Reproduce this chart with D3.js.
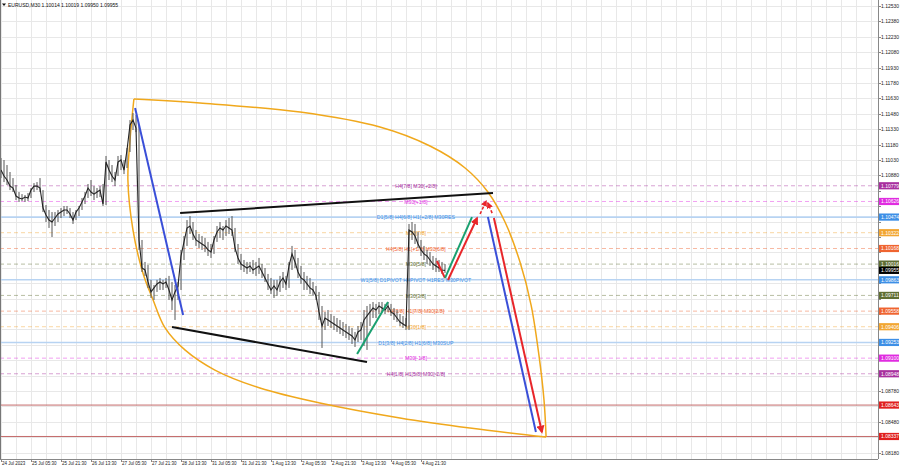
<!DOCTYPE html>
<html><head><meta charset="utf-8">
<script src="https://cdn.jsdelivr.net/npm/d3@7"></script>
<style>
html,body{margin:0;padding:0;background:#fff;}
svg{display:block;font-family:"Liberation Sans",Arial,sans-serif;}
</style></head><body>
<svg id="c" width="900" height="468"></svg>
<script>
// ---------- DATA ----------
const headerText = "EURUSD,M30  1.10014 1.10019 1.09950 1.09955";
const barHigh = [1.11049,1.1103,1.10981,1.10913,1.10854,1.10786,1.10718,1.10698,1.10689,1.10708,
1.10757,1.10805,1.10815,1.10854,1.10737,1.10591,1.10543,1.10523,1.10523,1.10543,
1.10562,1.10582,1.10582,1.10562,1.10523,1.10543,1.10582,1.1066,1.10718,1.10796,
1.10835,1.10776,1.10757,1.10776,1.10796,1.11069,1.1103,1.10981,1.10913,1.11069,
1.11078,1.1103,1.11147,1.11419,1.11487,1.11468,1.11371,1.10251,1.10037,1.10007,
1.09862,1.09813,1.09862,1.09881,1.09862,1.09881,1.09901,1.09842,1.09813,1.09842,
1.10154,1.1029,1.10445,1.10484,1.10426,1.10348,1.10309,1.1029,1.10271,1.10232,
1.10212,1.1029,1.10387,1.10426,1.10387,1.10445,1.10465,1.10484,1.10368,1.10212,
1.10115,1.10056,1.10037,1.10037,1.10056,1.10037,1.10076,1.10017,1.09978,1.0992,
1.09881,1.09862,1.09862,1.09901,1.09939,1.09901,1.10037,1.10193,1.10154,1.10076,
1.09998,1.09939,1.09901,1.09881,1.09842,1.09803,1.09745,1.09608,1.0955,1.09569,
1.0953,1.09511,1.09491,1.09472,1.09452,1.09433,1.09413,1.09394,1.09355,1.09413,
1.09452,1.09569,1.09608,1.09628,1.09647,1.09628,1.09647,1.09647,1.09628,1.09647,
1.09628,1.09589,1.09569,1.0953,1.09511,1.09491,1.10407,1.10426,1.10407,1.10329,
1.10251,1.10193,1.10154,1.10134,1.10095,1.10076,1.10056,1.10037,1.10017];
const barLow = [1.10854,1.10815,1.10786,1.10737,1.10718,1.1064,1.10621,1.1063,1.10621,1.1063,
1.1066,1.10718,1.10737,1.10718,1.10523,1.10426,1.10368,1.1028,1.10387,1.10426,
1.10465,1.10484,1.10504,1.10465,1.10407,1.10445,1.10484,1.10543,1.10601,1.1066,
1.10679,1.1064,1.1066,1.10669,1.10582,1.10591,1.10835,1.10815,1.10776,1.10874,
1.10932,1.10893,1.10952,1.11108,1.11322,1.11302,1.10154,1.09939,1.09901,1.09784,
1.09686,1.09667,1.09745,1.09764,1.09764,1.09784,1.09667,1.09569,1.09472,1.09667,
1.09764,1.10056,1.10193,1.10309,1.10251,1.10193,1.10173,1.10154,1.10134,1.10095,
1.10076,1.10115,1.10232,1.10271,1.10251,1.1029,1.10309,1.1029,1.10134,1.10017,
1.09959,1.09939,1.0992,1.09939,1.0992,1.09901,1.0992,1.09881,1.09842,1.09764,
1.09725,1.09686,1.09706,1.09745,1.09784,1.09764,1.09784,1.09959,1.09978,1.09881,
1.09823,1.09764,1.09764,1.09725,1.09706,1.09667,1.09472,1.09199,1.09374,1.09413,
1.09394,1.09374,1.09355,1.09335,1.09316,1.09296,1.09277,1.09238,1.09209,1.09257,
1.09277,1.09218,1.0918,1.09413,1.09491,1.09491,1.0953,1.0955,1.0953,1.0955,
1.09511,1.09472,1.09452,1.09413,1.09394,1.09374,1.09374,1.10251,1.10212,1.10173,
1.10095,1.10056,1.10017,1.09998,1.09959,1.09939,1.09939,1.0992,1.0993];
const barClose = [1.10932,1.10874,1.10835,1.10776,1.10757,1.10679,1.1066,1.1065,1.10669,1.1066,
1.10737,1.10776,1.10776,1.10757,1.10562,1.10494,1.10445,1.10426,1.10465,1.10504,
1.10523,1.10543,1.10543,1.10504,1.10445,1.10523,1.10562,1.10621,1.10679,1.10757,
1.10718,1.10698,1.10718,1.10737,1.10601,1.1101,1.10932,1.10874,1.10835,1.1101,
1.1103,1.10932,1.11127,1.11371,1.11419,1.11341,1.10251,1.09978,1.09959,1.09842,
1.09745,1.09784,1.09823,1.09842,1.09823,1.09842,1.09764,1.09667,1.09745,1.09803,
1.10095,1.10232,1.10368,1.10387,1.10309,1.10251,1.10232,1.10212,1.10193,1.10154,
1.10134,1.10251,1.10329,1.10368,1.10348,1.10387,1.10368,1.10348,1.10173,1.10076,
1.10017,1.09998,1.09978,1.09998,1.09959,1.09978,1.09998,1.09939,1.09881,1.09823,
1.09764,1.09803,1.09764,1.09842,1.09881,1.09823,1.09998,1.10115,1.10037,1.09939,
1.09881,1.09862,1.09823,1.09784,1.09764,1.09706,1.0955,1.09413,1.09491,1.09472,
1.09452,1.09433,1.09413,1.09394,1.09374,1.09355,1.09335,1.09316,1.09277,1.09355,
1.09374,1.09472,1.09511,1.0955,1.09589,1.09569,1.09608,1.09589,1.09569,1.09608,
1.0955,1.0953,1.09491,1.09452,1.09433,1.09413,1.10348,1.10329,1.1029,1.10212,
1.10154,1.10115,1.10095,1.10056,1.10017,1.09998,1.09978,1.09959,1.09955];
const priceTicks = [1.12530,1.12380,1.12230,1.12080,1.11930,1.11780,1.11630,1.11480,1.11330,1.11180,
1.11030,1.10880,1.10730,1.10580,1.10430,1.10280,1.10130,1.09980,1.09830,1.09680,
1.09530,1.09380,1.09230,1.09080,1.08930,1.08780,1.08630,1.08480,1.08330,1.08180];
const timeLabels = ["24 Jul 2023","25 Jul 05:30","25 Jul 21:30","26 Jul 13:30","27 Jul 05:30","27 Jul 21:30","28 Jul 13:30","31 Jul 05:30","31 Jul 21:30","1 Aug 13:30","2 Aug 05:30","2 Aug 21:30","3 Aug 13:30","4 Aug 05:30","4 Aug 21:30"];
const levelPrices = [1.10779,1.10626,1.10474,1.10322,1.10168,1.10016,1.09863,1.09711,1.09558,1.09406,1.09253,1.09100,1.08948];
const levelNames = ["H4[7/8] M30[+2/8]","M30[+1/8]","D1[5/8] H4[6/8] H1[+2/8] M30RES","M30[7/8]","H4[5/8] H1[+1/8] M30[6/8]","M30[5/8]","W1[5/8] D1PIVOT H4PIVOT H1RES M30PIVOT","M30[3/8]","H4[3/8] H1[7/8] M30[2/8]","M30[1/8]","D1[3/8] H4[2/8] H1[6/8] M30SUP","M30[-1/8]","H4[1/8] H1[5/8] M30[-2/8]"];
const levelKinds = ["purple","magenta","blue","gold","orange","olive","blue","olive","orange","gold","blue","magenta","purple"];
const targetLevels = [1.08643,1.08337];
const lastPrice = 1.09955;
// annotations: [bar index, price]
const arcOuter = [[44.3,1.11624],[66.3,1.11585],[99.7,1.11497],[126.3,1.11351],[143,1.11166],[154.7,1.10952],[162.3,1.10718],[168,1.10426],[173,1.10036],[176.7,1.09617],[179.3,1.09131],[181,1.08692],[181.7,1.08332]];
const arcInner = [[44.3,1.11624],[43,1.11224],[42.3,1.10835],[44,1.10348],[47.3,1.0993],[50.7,1.09667],[54.7,1.09394],[61.3,1.0918],[71.3,1.08984],[86.3,1.08809],[106.3,1.08663],[133,1.08517],[156.3,1.08419],[181.7,1.08332]];
const blueTrend = [[44.7,1.11536],[60.7,1.0952]];
const upperBlack = [[59.7,1.10513],[164,1.10708]];
const lowerBlack = [[57,1.09403],[122,1.09062]];
const greenUp1 = [[118.7,1.0914],[129,1.09647]];
const redDownSmall = [[145.3,1.10046],[148,1.0988]];
const greenUp2 = [[148,1.0988],[157,1.10474]];
const redUpArrow = [[149,1.09861],[158.7,1.10465]];
const redDash1 = [[159.7,1.10504],[161.7,1.1063]];
const redDash2 = [[163.7,1.10513],[162.3,1.10611]];
const blueDown = [[162.3,1.10474],[178.3,1.0838]];
const redDown = [[164.3,1.10465],[180.3,1.0838]];

// ---------- STYLE ----------
const kindColor = {purple:"#a8309e",magenta:"#e02ce0",blue:"#3d8fe6",gold:"#f2a632",orange:"#ef6430",olive:"#5f6e32"};
const plotR = 878, plotB = 459;

const svg = d3.select("#c");
const x = d3.scaleLinear().domain([0,148]).range([1,445]);
const y = d3.scaleLinear().domain([1.12530,1.08180]).range([6,452.6]);

const defs = svg.append("defs");
defs.append("clipPath").attr("id","clip").append("rect").attr("x",0).attr("y",0).attr("width",plotR).attr("height",plotB);
defs.append("marker").attr("id","arRed").attr("viewBox","0 0 10 10").attr("refX",8).attr("refY",5)
  .attr("markerWidth",4).attr("markerHeight",4).attr("orient","auto")
  .append("path").attr("d","M0,0 L10,5 L0,10 z").attr("fill","#e8262a");

svg.append("rect").attr("width",900).attr("height",468).attr("fill","#fff");
const plot = svg.append("g").attr("clip-path","url(#clip)");

// grid
plot.append("g").selectAll("line").data(d3.range(0,300,5)).join("line")
  .attr("x1",d=>Math.round(x(d))+0.5).attr("x2",d=>Math.round(x(d))+0.5).attr("y1",0).attr("y2",plotB)
  .attr("stroke","#e8e8e8").attr("stroke-width",1);
plot.append("g").selectAll("line").data(priceTicks).join("line")
  .attr("x1",0).attr("x2",plotR).attr("y1",d=>Math.round(y(d))+0.5).attr("y2",d=>Math.round(y(d))+0.5)
  .attr("stroke","#e8e8e8").attr("stroke-width",1);

// level lines
const lv = levelPrices.map((p,i)=>({p,name:levelNames[i],kind:levelKinds[i]}));
plot.append("g").selectAll("line").data(lv).join("line")
  .attr("x1",0).attr("x2",plotR).attr("y1",d=>y(d.p)).attr("y2",d=>y(d.p))
  .attr("stroke",d=>d.kind==="blue"?"#b7d3f2":kindColor[d.kind])
  .attr("stroke-opacity",d=>d.kind==="blue"?1:0.45)
  .attr("stroke-width",d=>d.kind==="blue"?1.6:1)
  .attr("stroke-dasharray",d=>d.kind==="blue"?null:"4,3");
plot.append("g").selectAll("line").data(targetLevels).join("line")
  .attr("x1",0).attr("x2",plotR).attr("y1",d=>y(d)).attr("y2",d=>y(d))
  .attr("stroke","#c46a6a").attr("stroke-width",1);

// arcs
const ln = d3.line().x(d=>x(d[0])).y(d=>y(d[1]));
const lnCurve = d3.line().x(d=>x(d[0])).y(d=>y(d[1])).curve(d3.curveCatmullRom.alpha(0.5));
plot.append("path").attr("d",lnCurve(arcOuter)).attr("fill","none").attr("stroke","#f0a81c").attr("stroke-width",1.5);
plot.append("path").attr("d",lnCurve(arcInner)).attr("fill","none").attr("stroke","#f0a81c").attr("stroke-width",1.5);

// level texts
const labelX = x(138.3);
plot.append("g").selectAll("text").data(lv).join("text")
  .attr("x",labelX).attr("y",d=>y(d.p)+2.2).attr("text-anchor","middle")
  .attr("font-size",5.2).attr("fill",d=>kindColor[d.kind]).text(d=>d.name);

// bars (high-low lines plus close line)
const bars = barHigh.map((h,i)=>({i,h,l:barLow[i],c:barClose[i]}));
plot.append("g").attr("stroke","#555").attr("stroke-width",1)
  .selectAll("line").data(bars).join("line")
  .attr("x1",d=>x(d.i)).attr("x2",d=>x(d.i)).attr("y1",d=>y(d.h)).attr("y2",d=>y(d.l));
plot.append("path").attr("d",d3.line().x(d=>x(d.i)).y(d=>y(d.c))(bars))
  .attr("fill","none").attr("stroke","#222").attr("stroke-width",1.1);

// trend lines & arrows
function seg(data,color,w,opts={}){
  const p = plot.append("path").attr("d",ln(data)).attr("fill","none").attr("stroke",color).attr("stroke-width",w);
  if(opts.dash) p.attr("stroke-dasharray",opts.dash);
  if(opts.arrow) p.attr("marker-end","url(#"+opts.arrow+")");
  return p;
}
seg(blueTrend,"#3a4fd8",2);
seg(upperBlack,"#111",2);
seg(lowerBlack,"#111",2);
seg(greenUp1,"#1aa070",2);
seg(redDownSmall,"#e8262a",2);
seg(greenUp2,"#1aa070",2);
seg(redUpArrow,"#e8262a",2,{arrow:"arRed"});
seg(redDash1,"#e8262a",1.6,{dash:"3,2",arrow:"arRed"});
seg(redDash2,"#e8262a",1.6,{dash:"3,2",arrow:"arRed"});
seg(blueDown,"#3a4fd8",2);
seg(redDown,"#e8262a",2,{arrow:"arRed"});

// frame
svg.append("line").attr("x1",plotR+0.5).attr("x2",plotR+0.5).attr("y1",0).attr("y2",plotB).attr("stroke","#888");
svg.append("line").attr("x1",0).attr("x2",plotR).attr("y1",plotB+0.5).attr("y2",plotB+0.5).attr("stroke","#888");
svg.append("line").attr("x1",0.5).attr("x2",0.5).attr("y1",0).attr("y2",plotB).attr("stroke","#777");

// colored price tags
const tags = lv.map(d=>({p:d.p,color:kindColor[d.kind]}))
  .concat(targetLevels.map(p=>({p,color:"#e0201e"})))
  .concat([{p:lastPrice,color:"#000"}]);

// price axis (hide labels hidden under tags)
const visibleTicks = priceTicks.filter(t=>!tags.some(g=>Math.abs(y(g.p)-y(t))<7));
const pa = svg.append("g");
pa.selectAll("line").data(priceTicks).join("line")
  .attr("x1",plotR).attr("x2",plotR+3).attr("y1",d=>Math.round(y(d))+0.5).attr("y2",d=>Math.round(y(d))+0.5).attr("stroke","#888");
pa.selectAll("text").data(visibleTicks).join("text")
  .attr("x",plotR+3).attr("y",d=>y(d)+2).attr("font-size",5).attr("fill","#222").text(d=>d.toFixed(5));

const tg = svg.append("g").selectAll("g").data(tags).join("g");
tg.append("rect").attr("x",plotR+1).attr("y",d=>y(d.p)-3.6).attr("width",20).attr("height",7.2).attr("fill",d=>d.color);
tg.append("text").attr("x",plotR+3).attr("y",d=>y(d.p)+1.9).attr("font-size",5).attr("fill","#fff").text(d=>d.p.toFixed(5));

// time axis
const ta = svg.append("g");
ta.selectAll("line").data(timeLabels).join("line")
  .attr("x1",(d,i)=>Math.round(x(i*10))+0.5).attr("x2",(d,i)=>Math.round(x(i*10))+0.5).attr("y1",plotB).attr("y2",plotB+3).attr("stroke","#888");
ta.selectAll("text").data(timeLabels).join("text")
  .attr("x",(d,i)=>x(i*10)+1).attr("y",plotB+6).attr("font-size",4.5).attr("fill","#222").text(d=>d);

// header
svg.append("path").attr("d","M2,3.5 L6,3.5 L4,6 z").attr("fill","#111");
svg.append("text").attr("x",8).attr("y",7).attr("font-size",5).attr("fill","#111").text(headerText);
</script>
</body></html>
